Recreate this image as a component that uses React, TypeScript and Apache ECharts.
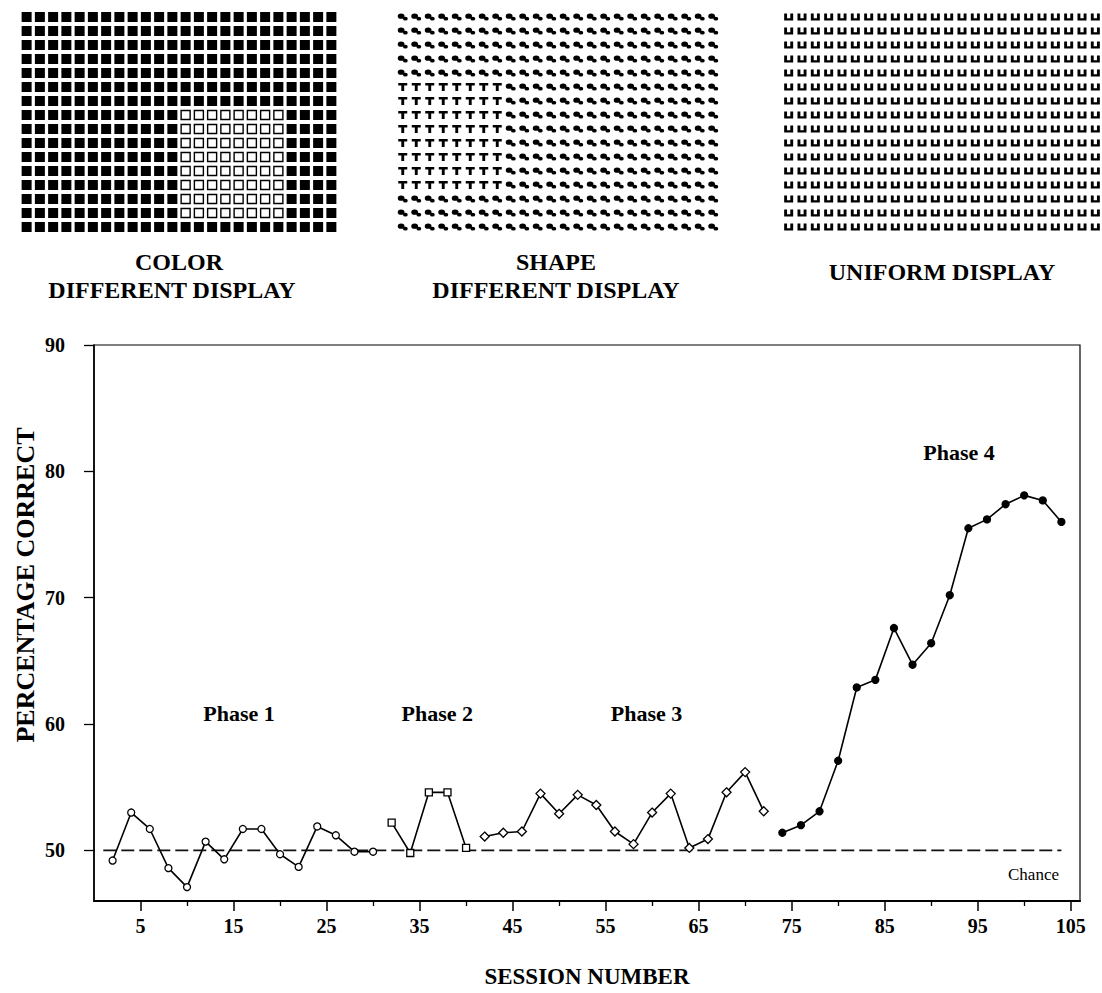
import React, { useEffect, useRef } from 'react';
import * as echarts from 'echarts';

// ---- Main chart data ----
const P1_SESSIONS = [2, 4, 6, 8, 10, 12, 14, 16, 18, 20, 22, 24, 26, 28, 30];
const P1_VALUES = [49.2, 53.0, 51.7, 48.6, 47.1, 50.7, 49.3, 51.7, 51.7, 49.7, 48.7, 51.9, 51.2, 49.9, 49.9];
const P2_SESSIONS = [32, 34, 36, 38, 40];
const P2_VALUES = [52.2, 49.8, 54.6, 54.6, 50.2];
const P3_SESSIONS = [42, 44, 46, 48, 50, 52, 54, 56, 58, 60, 62, 64, 66, 68, 70, 72];
const P3_VALUES = [51.1, 51.4, 51.5, 54.5, 52.9, 54.4, 53.6, 51.5, 50.5, 53.0, 54.5, 50.2, 50.9, 54.6, 56.2, 53.1];
const P4_SESSIONS = [74, 76, 78, 80, 82, 84, 86, 88, 90, 92, 94, 96, 98, 100, 102, 104];
const P4_VALUES = [51.4, 52.0, 53.1, 57.1, 62.9, 63.5, 67.6, 64.7, 66.4, 70.2, 75.5, 76.2, 77.4, 78.1, 77.7, 76.0];
const CHANCE_LEVEL = 50;
const CHANCE_SPAN = [1, 104];

const X_LABEL_TICKS = [5, 15, 25, 35, 45, 55, 65, 75, 85, 95, 105];
const X_MINOR_TICKS = [10, 20, 30, 40, 50, 60, 70, 80, 90, 100];
const Y_LABEL_TICKS = [50, 60, 70, 80, 90];

const PHASE_NAMES = ['Phase 1', 'Phase 2', 'Phase 3', 'Phase 4'];
const PHASE_X = [15.6, 36.9, 59.4, 93.0];
const PHASE_Y = [60.8, 60.8, 60.8, 81.5];

// ---- Stimulus displays ----
const DISPLAY_ROWS = 16;
const DISPLAY_COLS = 24;
const COLOR_TARGET = { r0: 7, r1: 14, c0: 12, c1: 19 };
const SHAPE_TARGET = { r0: 5, r1: 12, c0: 0, c1: 7 };

const FONT = '"Liberation Serif", "Times New Roman", serif';

function buildCells(target: { r0: number; r1: number; c0: number; c1: number } | null, inside: boolean) {
  const out: number[][] = [];
  for (let r = 0; r < DISPLAY_ROWS; r++) {
    for (let c = 0; c < DISPLAY_COLS; c++) {
      const isIn = !!target && r >= target.r0 && r <= target.r1 && c >= target.c0 && c <= target.c1;
      if (isIn === inside) out.push([c, r]);
    }
  }
  return out;
}

const T_PATH = 'path://M0,0L10,0L10,3L6.6,3L6.6,10L3.4,10L3.4,3L0,3Z';
const U_PATH = 'path://M0,0L3.2,0L3.2,6.8L6.8,6.8L6.8,0L10,0L10,10L0,10Z';
const BLOB_PATH =
  'path://M0,3.4A3.4,3.4,0,1,1,6.8,3.4A3.4,3.4,0,1,1,0,3.4ZM5.2,6.6A2.4,2.4,0,1,1,10,6.6A2.4,2.4,0,1,1,5.2,6.6ZM4,4.5L6.5,5.2L6,7L3.5,6Z';

const zip = (xs: number[], ys: number[]) => xs.map((x, i) => [x, ys[i]]);

export default function App() {
  const ref = useRef<HTMLDivElement>(null);
  useEffect(() => {
    document.body.style.margin = '0';
    const chart = echarts.init(ref.current!, undefined, { renderer: 'svg' });

    const displayGrids = [
      { left: 20, top: 10, width: 318, height: 224 },
      { left: 396, top: 10, width: 324, height: 224 },
      { left: 782, top: 10, width: 320, height: 224 },
    ];
    const hiddenX = (i: number) => ({
      type: 'value', gridIndex: i, min: -0.5, max: DISPLAY_COLS - 0.5, show: false,
    });
    const hiddenY = (i: number) => ({
      type: 'value', gridIndex: i, min: -0.5, max: DISPLAY_ROWS - 0.5, inverse: true, show: false,
    });

    const displaySeries = (idx: number, data: number[][], symbol: string, size: any, style: any) => ({
      type: 'scatter', xAxisIndex: idx, yAxisIndex: idx, data, symbol, symbolSize: size,
      itemStyle: { opacity: 1, ...style }, silent: true,
    });

    const boldText = { fontFamily: FONT, fontWeight: 'bold', color: '#000' };
    const gText = (text: string, x: number, y: number, size: number, extra: any = {}) => ({
      type: 'text', x, y, ...extra,
      style: { text, fill: '#000', font: `bold ${size}px ${FONT}`, align: 'center', verticalAlign: 'middle' },
    });

    const lineSeries = (name: string, data: number[][], symbol: string, size: number, filled: boolean) => ({
      type: 'line', name, xAxisIndex: 3, yAxisIndex: 3, data, symbol, symbolSize: size,
      showAllSymbol: true, z: 5,
      lineStyle: { color: '#000', width: 1.6 },
      itemStyle: { color: filled ? '#000' : '#fff', borderColor: '#000', borderWidth: 1.3, opacity: 1 },
    });

    chart.setOption({
      animation: false,
      backgroundColor: '#fff',
      textStyle: { fontFamily: FONT },
      grid: [
        ...displayGrids,
        { left: 94, right: 22, top: 345, bottom: 89, show: true, borderColor: '#000', borderWidth: 1.2 },
      ],
      xAxis: [
        hiddenX(0), hiddenX(1), hiddenX(2),
        {
          type: 'value', gridIndex: 3, position: 'bottom', min: 0, max: 106,
          name: 'SESSION NUMBER', nameLocation: 'middle', nameGap: 64,
          nameTextStyle: { ...boldText, fontSize: 23 },
          axisLine: { show: true, lineStyle: { color: '#000', width: 2 } },
          axisTick: { show: true, length: 10, customValues: X_LABEL_TICKS, lineStyle: { color: '#000', width: 1.5 } },
          axisLabel: { show: true, customValues: X_LABEL_TICKS, margin: 15, ...boldText, fontSize: 20 },
          splitLine: { show: false },
        },
        {
          type: 'value', gridIndex: 3, position: 'bottom', min: 0, max: 106,
          axisLine: { show: false },
          axisTick: { show: true, length: 5, customValues: X_MINOR_TICKS, lineStyle: { color: '#000', width: 1.3 } },
          axisLabel: { show: false },
          splitLine: { show: false },
        },
      ],
      yAxis: [
        hiddenY(0), hiddenY(1), hiddenY(2),
        {
          type: 'value', gridIndex: 3, min: 46, max: 90,
          axisLine: { show: true, lineStyle: { color: '#000', width: 1.6 } },
          axisTick: { show: true, length: 10, customValues: Y_LABEL_TICKS, lineStyle: { color: '#000', width: 1.3 } },
          axisLabel: { show: true, customValues: Y_LABEL_TICKS, margin: 29, ...boldText, fontSize: 20 },
          splitLine: { show: false },
        },
      ],
      graphic: [
        gText('COLOR', 179, 262, 24),
        gText('DIFFERENT DISPLAY', 172, 290, 24),
        gText('SHAPE', 556, 262, 24),
        gText('DIFFERENT DISPLAY', 556, 290, 24),
        gText('UNIFORM DISPLAY', 942, 272, 24),
        gText('PERCENTAGE CORRECT', 25, 585, 26, { rotation: Math.PI / 2 }),
      ],
      series: [
        displaySeries(0, buildCells(COLOR_TARGET, false), 'rect', 10, { color: '#000' }),
        displaySeries(0, buildCells(COLOR_TARGET, true), 'rect', 9, { color: '#fff', borderColor: '#000', borderWidth: 1.4 }),
        displaySeries(1, buildCells(SHAPE_TARGET, true), T_PATH, [9, 8], { color: '#000' }),
        displaySeries(1, buildCells(SHAPE_TARGET, false), BLOB_PATH, [10, 7], { color: '#000' }),
        displaySeries(2, buildCells(null, false), U_PATH, [9, 7], { color: '#000' }),
        {
          type: 'line', name: 'Chance', xAxisIndex: 3, yAxisIndex: 3, z: 2,
          data: CHANCE_SPAN.map((x) => [x, CHANCE_LEVEL]), symbol: 'none',
          lineStyle: { color: '#111', width: 1.8, type: [13, 5] },
        },
        lineSeries('Phase 1', zip(P1_SESSIONS, P1_VALUES), 'circle', 7, false),
        lineSeries('Phase 2', zip(P2_SESSIONS, P2_VALUES), 'rect', 7, false),
        lineSeries('Phase 3', zip(P3_SESSIONS, P3_VALUES), 'diamond', 9, false),
        lineSeries('Phase 4', zip(P4_SESSIONS, P4_VALUES), 'circle', 7, true),
        {
          type: 'scatter', xAxisIndex: 3, yAxisIndex: 3, symbolSize: 1, silent: true, z: 6,
          itemStyle: { opacity: 0 },
          data: PHASE_NAMES.map((n, i) => ({ name: n, value: [PHASE_X[i], PHASE_Y[i]] })),
          label: { show: true, position: 'inside', formatter: '{b}', ...boldText, fontSize: 22, opacity: 1 },
        },
        {
          type: 'scatter', xAxisIndex: 3, yAxisIndex: 3, symbolSize: 1, silent: true, z: 6,
          itemStyle: { opacity: 0 },
          data: [{ name: 'Chance', value: [101.0, 48.1] }],
          label: { show: true, position: 'inside', formatter: '{b}', fontFamily: FONT, fontSize: 17, color: '#000', opacity: 1 },
        },
      ],
    });
    return () => chart.dispose();
  }, []);
  return (
    <div
      ref={ref}
      style={{ position: 'absolute', left: 0, top: 0, width: 1102, height: 993, background: '#fff' }}
    />
  );
}
